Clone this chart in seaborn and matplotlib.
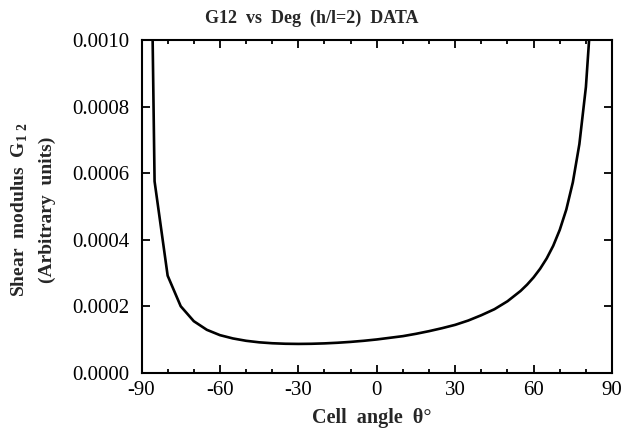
import numpy as np
import pandas as pd
import seaborn as sns
import matplotlib.pyplot as plt
from matplotlib.ticker import MultipleLocator, FormatStrFormatter

# cell angle (deg) and shear modulus
angle = [-89, -85, -80, -75, -70, -65, -60, -55, -50, -45, -40, -35, -30,
         -25, -20, -15, -10, -5, 0, 5, 10, 15, 20, 25, 30, 35, 40, 45,
         50, 55, 57.5, 60, 62.5, 65, 67.5, 70, 72.5, 75, 77.5, 80, 82.5, 85]
g12 = [0.00287, 0.000576, 0.000292, 0.000200, 0.000155, 0.000129, 0.000113,
       0.000103, 0.0000960, 0.0000914, 0.0000886, 0.0000871, 0.0000866,
       0.0000870, 0.0000882, 0.0000901, 0.0000927, 0.0000960, 0.000100,
       0.000105, 0.000110, 0.000117, 0.000125, 0.000134, 0.000144, 0.000157,
       0.000173, 0.000191, 0.000215, 0.000246, 0.000265, 0.000287, 0.000313,
       0.000344, 0.000382, 0.000430, 0.000491, 0.000573, 0.000688, 0.000860,
       0.00115, 0.00172]

df = pd.DataFrame({"angle": angle, "g12": g12})

sns.set_style("ticks")
plt.rcParams["font.family"] = ["Liberation Serif", "DejaVu Serif"]
plt.rcParams["axes.unicode_minus"] = False
plt.rcParams["mathtext.fontset"] = "custom"
plt.rcParams["mathtext.rm"] = "Liberation Serif:bold"
plt.rcParams["mathtext.bf"] = "Liberation Serif:bold"

fig = plt.figure(figsize=(6.22, 4.40), dpi=100)
ax = fig.add_axes([0.2275, 0.153, 0.7565, 0.755])

sns.lineplot(data=df, x="angle", y="g12", ax=ax, color="black", linewidth=1.9,
             sort=False)

ax.set_xlim(-90, 90)
ax.set_ylim(0, 0.001)
ax.xaxis.set_major_locator(MultipleLocator(30))
ax.xaxis.set_minor_locator(MultipleLocator(10))
ax.yaxis.set_major_locator(MultipleLocator(0.0002))
ax.yaxis.set_major_formatter(FormatStrFormatter("%.4f"))

for s in ax.spines.values():
    s.set_visible(True)
    s.set_linewidth(1.5)
    s.set_color("black")

ax.tick_params(which="both", direction="in", top=True, right=True,
               colors="black", width=1.3, labelsize=15)
ax.tick_params(which="major", length=6)
ax.tick_params(which="minor", length=3)
ax.tick_params(axis="y", pad=9)
ax.tick_params(axis="x", pad=6)

ax.set_xlabel("Cell  angle  θ°", fontsize=14.5, fontweight="bold")
ax.xaxis.set_label_coords(0.49, -0.105)
ax.set_ylabel("Shear  modulus  G$_{\\mathbf{1\\ 2}}$\n(Arbitrary  units)",
              fontsize=14, fontweight="bold", linespacing=1.65)
ax.yaxis.set_label_coords(-0.182, 0.49)

fig.text(0.5016, 0.977, "G12  vs  Deg  (h/l=2)  DATA", ha="center", va="top",
         fontsize=13, fontweight="bold")

fig.savefig("out.png", dpi=100, facecolor="white")
